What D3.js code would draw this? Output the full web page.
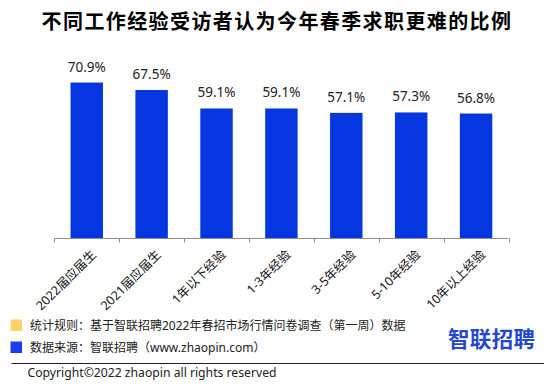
<!DOCTYPE html>
<html><head><meta charset="utf-8">
<script src="https://cdn.jsdelivr.net/npm/d3@7"></script>
<style>
html,body{margin:0;padding:0;background:#fff;}
svg{display:block;font-family:"Noto Sans","Noto Sans CJK SC",sans-serif;}
</style></head>
<body><svg id="c" width="554" height="388"></svg>
<script>
const categories = ["2022届应届生","2021届应届生","1年以下经验","1-3年经验","3-5年经验","5-10年经验","10年以上经验"];
const values = [70.9, 67.5, 59.1, 59.1, 57.1, 57.3, 56.8];
const title = "不同工作经验受访者认为今年春季求职更难的比例";
const notes = ["统计规则：基于智联招聘2022年春招市场行情问卷调查（第一周）数据","数据来源：智联招聘（www.zhaopin.com）"];
const copyright = "Copyright©2022 zhaopin all rights reserved";
const logo = "智联招聘";

const svg = d3.select("#c");
const x0 = 54.3, x1 = 508.5, yBase = 238.5;
const xBand = d3.scaleBand().domain(categories).range([x0, x1]).padding(0);
const xBar = d3.scaleBand().domain(categories).range([x0, x1]).paddingInner(0.5).paddingOuter(0.25);
const y = d3.scaleLinear().domain([0, 80]).range([yBase, yBase - 176]);

svg.append("text").attr("x", 277).attr("y", 28.5).attr("text-anchor", "middle")
  .attr("font-size", 20).attr("font-weight", "bold").attr("fill", "#000")
  .attr("letter-spacing", 1.4)
  .attr("font-family", "'Noto Sans CJK SC',sans-serif").text(title);

svg.selectAll("rect.bar").data(values).join("rect").attr("class","bar")
  .attr("x", (d,i) => xBar(categories[i])).attr("width", xBar.bandwidth())
  .attr("y", d => y(d)).attr("height", d => yBase - y(d)).attr("fill", "#0636DF");

svg.selectAll("text.val").data(values).join("text").attr("class","val")
  .attr("x", (d,i) => xBar(categories[i]) + xBar.bandwidth()/2)
  .attr("y", d => y(d) - 11).attr("text-anchor","middle")
  .attr("font-size", 13.5).attr("fill","#222").text(d => d.toFixed(1) + "%");

// axis
const ax = svg.append("g").attr("stroke","#8c8c8c").attr("stroke-width",1);
ax.append("line").attr("x1", x0).attr("x2", x1).attr("y1", yBase).attr("y2", yBase);
const edges = categories.map(c => xBand(c)).concat([x1]);
ax.selectAll("line.t").data(edges).join("line").attr("class","t")
  .attr("x1", d => Math.round(d)+0.5).attr("x2", d => Math.round(d)+0.5)
  .attr("y1", yBase).attr("y2", yBase + 4);

svg.selectAll("text.cat").data(categories).join("text").attr("class","cat")
  .attr("transform", d => `translate(${xBand(d) + xBand.bandwidth()/2 + 10},${yBase + 17}) rotate(-45)`)
  .attr("text-anchor","end").attr("font-size", 12.5).attr("fill","#111").text(d => d);

// legend notes
const colors = ["#FFD36B", "#1A3CF0"];
notes.forEach((t,i) => {
  svg.append("rect").attr("x", 10.5).attr("y", 319.5 + i*22).attr("width", 11.5).attr("height", 11.5).attr("fill", colors[i]);
  svg.append("text").attr("x", 30).attr("y", 330 + i*21.5).attr("font-size", 12).attr("fill","#222").text(t);
});

svg.append("text").attr("x", 448).attr("y", 347).attr("font-size", 21.5).attr("font-weight","bold")
  .attr("fill","#2447D0").attr("font-family","'Noto Sans CJK SC',sans-serif").attr("textLength", 87).text(logo);

svg.append("line").attr("x1", 11.5).attr("x2", 544).attr("y1", 363.5).attr("y2", 363.5).attr("stroke","#222").attr("stroke-width",1);
svg.append("text").attr("x", 27.5).attr("y", 376.5).attr("font-size", 12.2).attr("fill","#222").text(copyright);
</script></body></html>
